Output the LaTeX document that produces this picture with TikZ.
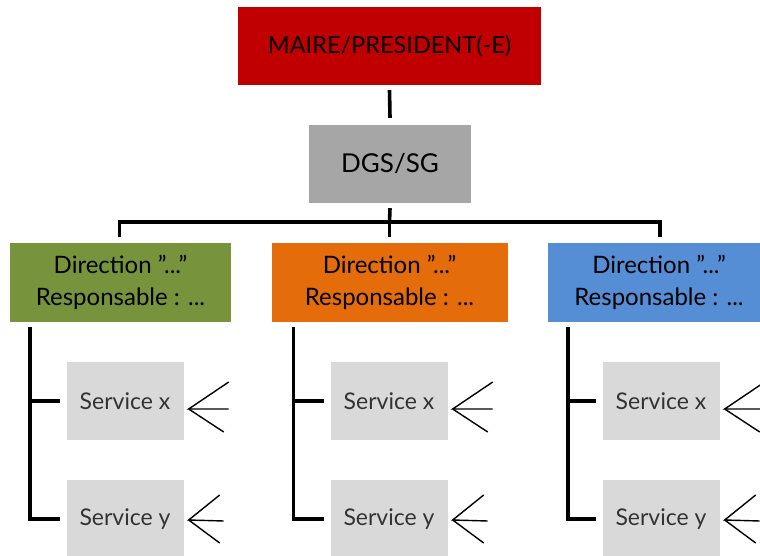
\documentclass[tikz,border=0pt]{standalone}
\usepackage{fontspec}
\setmainfont{Lato}
\usetikzlibrary{calc}
\definecolor{cred}{HTML}{C00000}
\definecolor{cdgs}{HTML}{A6A6A6}
\definecolor{cgreen}{HTML}{77933C}
\definecolor{corange}{HTML}{E46C0A}
\definecolor{cblue}{HTML}{558ED5}
\definecolor{cserv}{HTML}{D9D9D9}
\begin{document}
\begin{tikzpicture}[x=1pt,y=-1pt,
  box/.style={inner sep=0pt,align=center,text=black},
  dirbox/.style={box,minimum height=79pt,font=\fontsize{24}{32}\selectfont},
  servbox/.style={box,fill=cserv,minimum width=117pt,minimum height=78pt,text=black!80,font=\fontsize{23}{26}\selectfont},
  link/.style={line width=3.6pt,line cap=butt},
  fan/.style={line width=1.4pt}]
\useasboundingbox (0,0) rectangle (760,556);
\node[box,fill=cred,minimum width=303pt,minimum height=78pt,font=\fontsize{23.5}{26}\selectfont] (mair) at (389.5,46) {MAIRE/PRESIDENT(-E)};
\node[box,fill=cdgs,minimum width=162pt,minimum height=78pt,font=\fontsize{26}{28}\selectfont] (dgs) at (390,164) {DGS/SG};
\node[dirbox,fill=cgreen,minimum width=221pt] (d1) at (120.5,282.5) {Direction "..."\\Responsable : ...};
\node[dirbox,fill=corange,minimum width=236pt] (d2) at (389.5,282.5) {Direction "..."\\Responsable : ...};
\node[dirbox,fill=cblue,minimum width=222pt] (d3) at (659,282.5) {Direction "..."\\Responsable : ...};
\foreach \n/\x in {1/125,2/389,3/661}{
  \node[servbox] (s\n a) at (\x,401) {Service x};
  \node[servbox] (s\n b) at (\x,519) {Service y};
}
% top connectors
\draw[link] ($(mair.south)+(0,5)$) -- ($(dgs.north)+(0,-7)$);
\coordinate (bar) at (389.5,222);
\draw[link] ($(dgs.south)+(0,5)$) -- (bar);
\draw[link,line join=miter] ($(d1.north)+(-1,-6)$) |- (bar) -| ($(d3.north)+(1,-6)$);
\draw[link] (bar) -- ($(d2.north)+(0,-6)$);
% direction to services
\foreach \n/\dx in {1/20,2/22,3/20}{
  \coordinate (v\n) at ($(d\n.south west)+(\dx,5)$);
  \draw[link,line join=miter] (v\n) |- ($(s\n b.west)+(-6,0)$);
  \draw[link] (v\n |- s\n a.west) -- ($(s\n a.west)+(-6,0)$);
}
% fans
\foreach \n in {1,2,3}{
  \coordinate (fa\n) at ($(s\n a.east)+(5,8)$);
  \draw[fan] ($(fa\n)+(40,-27)$) -- (fa\n) -- ($(fa\n)+(40,0)$);
  \draw[fan] (fa\n) -- ($(fa\n)+(35,23)$);
  \coordinate (fb\n) at ($(s\n b.east)+(5,1)$);
  \draw[fan] ($(fb\n)+(31,-25)$) -- (fb\n) -- ($(fb\n)+(35,1)$);
  \draw[fan] (fb\n) -- ($(fb\n)+(31,23)$);
}
\end{tikzpicture}
\end{document}
